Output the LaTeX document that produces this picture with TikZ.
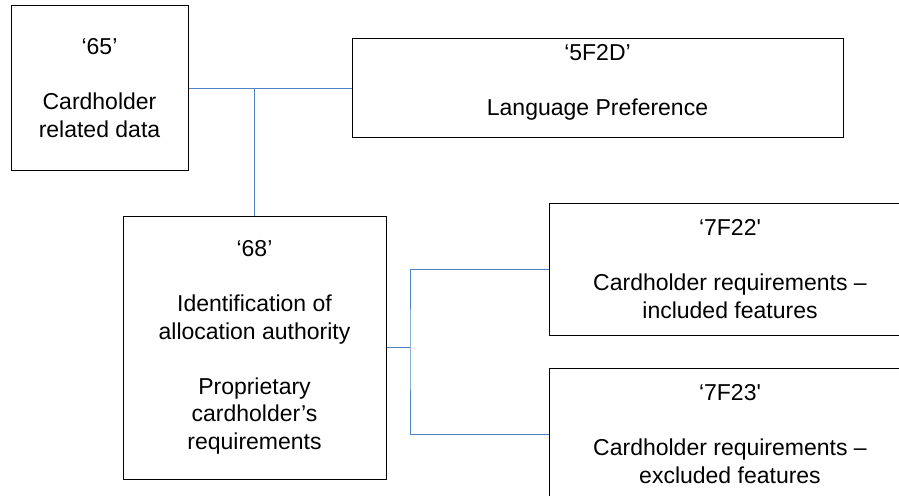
\documentclass[tikz,border=0pt]{standalone}
\usepackage{fontspec}
\setmainfont{Liberation Sans}[Ligatures=TeXOff]
\begin{document}
\begin{tikzpicture}[x=1pt,y=-1pt,
  box/.style={draw=black, line width=1pt, rectangle, inner sep=0pt, align=center,
              font=\fontsize{23}{27.5}\selectfont},
  txt/.style={inner sep=0pt, align=center, font=\fontsize{23}{27.5}\selectfont},
  conn/.style={draw={rgb,255:red,79;green,129;blue,196}, line width=1pt}]
\useasboundingbox (0,0) rectangle (899,495);

% data objects
\node[box, minimum width=177, minimum height=165] (chd) at (99.5,88)
  {‘65’\\[27.5pt]Cardholder\\related data};
\node[box, minimum width=491, minimum height=98] (lp) at (597.5,88) {};
\node[txt] (lpt) at (597.5,82.5) {‘5F2D’\\[27.5pt]Language Preference};
\node[box, minimum width=263, minimum height=263] (id) at (254.5,347.5)
  {‘68’\\[27.5pt]Identification of\\allocation authority\\[27.5pt]Proprietary\\cardholder’s\\requirements};
\node[box, minimum width=362, minimum height=132] (inc) at (730,269)
  {‘7F22'\\[27.5pt]Cardholder requirements –\\included features};
\node[box, minimum width=362, minimum height=132] (exc) at (730,434)
  {‘7F23'\\[27.5pt]Cardholder requirements –\\excluded features};

% tree connectors
\draw[conn] (chd.east) -- (lp.west);
\draw[conn] (id.north) -- (id.north |- chd.east);
\coordinate (fork) at (410,347.5);
\draw[conn] (id.east) -- (fork);
\draw[conn] (inc.west) -| (fork) |- (exc.west);
\end{tikzpicture}
\end{document}
